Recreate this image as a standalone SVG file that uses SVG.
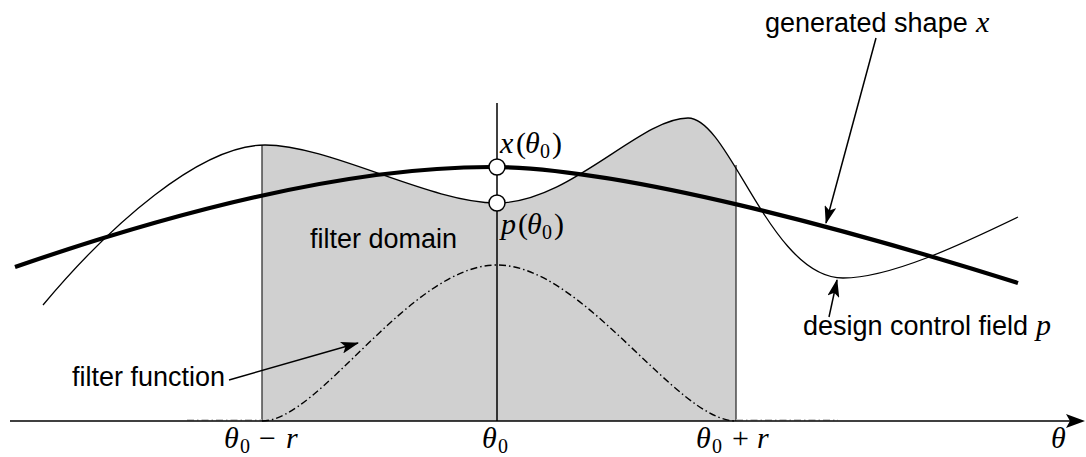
<svg xmlns="http://www.w3.org/2000/svg" width="1086" height="457" viewBox="0 0 1086 457">
<style>
.sans{font-family:"Liberation Sans",Arial,sans-serif;font-size:27px;fill:#000}
.math{font-family:"Liberation Serif","Times New Roman",serif;font-size:30px;fill:#000}
.it{font-style:italic}
.sub{font-size:20px;font-style:normal}
.thin{fill:none;stroke:#000;stroke-width:1.3}
.thick{fill:none;stroke:#000;stroke-width:4.2}
.edge{fill:none;stroke:#333;stroke-width:1.3}
.lead{fill:none;stroke:#000;stroke-width:1.5}
.dd{fill:none;stroke:#000;stroke-width:1.4;stroke-dasharray:7 3 1.5 3}
.ddf{fill:none;stroke:#bbb;stroke-width:1.4;stroke-dasharray:7 3 1.5 3}
.pt{fill:#fff;stroke:#000;stroke-width:1.5}
</style>
<defs>
<clipPath id="dom"><rect x="262" y="0" width="474" height="421"/></clipPath>
<marker id="ah" viewBox="0 0 18 12" refX="17" refY="6" markerWidth="18" markerHeight="12" markerUnits="userSpaceOnUse" orient="auto">
<path d="M18,6 L0,0 L4,6 L0,12 Z" fill="#000"/>
</marker>
</defs>
<g id="filter-domain">
<path d="M43,305 C110,225 200,145 265,145 C330,145 430,203 497,203 C570,203 640,118 688,118 C730,118 770,278 843,278 C890,278 960,245 1018,217 L1018,421 L43,421 Z" fill="#d0d0d0" clip-path="url(#dom)"/>
<path class="edge" d="M262,145 L262,421 M736,165 L736,421"/>
<text class="sans" x="310" y="248">filter domain</text>
</g>
<g id="filter-function">
<path class="ddf" d="M187,420 L262,420 M736,420 L838,420"/>
<path class="dd" d="M262,421 C320,421 410,265 497,265 C584,265 676,421 736,421"/>
</g>
<g id="design-control-field">
<path class="thin" d="M43,305 C110,225 200,145 265,145 C330,145 430,203 497,203 C570,203 640,118 688,118 C730,118 770,278 843,278 C890,278 960,245 1018,217"/>
</g>
<g id="generated-shape">
<path class="thick" d="M15,267 C180,210 350,167 490,167 C620,167 850,230 1018,283"/>
</g>
<g id="axes">
<path d="M10,421 L1070,421" fill="none" stroke="#000" stroke-width="1.6"/>
<path d="M1085,421 L1066,414 L1070,421 L1066,428 Z" fill="#000"/>
<path d="M497,103 L497,421" fill="none" stroke="#000" stroke-width="1.5"/>
<text class="math" y="448"><tspan class="it" x="224">θ</tspan><tspan class="sub" x="240" dy="5">0</tspan><tspan x="259" dy="-5">−</tspan><tspan class="it" x="286">r</tspan></text>
<text class="math" y="448"><tspan class="it" x="482">θ</tspan><tspan class="sub" x="498" dy="5">0</tspan></text>
<text class="math" y="448"><tspan class="it" x="696">θ</tspan><tspan class="sub" x="712" dy="5">0</tspan><tspan x="732" dy="-5">+</tspan><tspan class="it" x="757">r</tspan></text>
<text class="math it" x="1051" y="448">θ</text>
</g>
<g id="point-x">
<circle class="pt" cx="497" cy="167" r="8"/>
<text class="math" y="153"><tspan class="it" x="500">x</tspan><tspan x="516">(</tspan><tspan class="it" x="525">θ</tspan><tspan class="sub" x="540" dy="5">0</tspan><tspan x="552" dy="-5">)</tspan></text>
</g>
<g id="point-p">
<circle class="pt" cx="497" cy="203" r="8"/>
<text class="math" y="234"><tspan class="it" x="501">p</tspan><tspan x="518">(</tspan><tspan class="it" x="527">θ</tspan><tspan class="sub" x="542" dy="5">0</tspan><tspan x="554" dy="-5">)</tspan></text>
</g>
<g id="label-generated-shape">
<text class="sans" x="765" y="32">generated shape <tspan class="math it" x="976">x</tspan></text>
</g>
<g id="label-design-control-field">
<text class="sans" x="803" y="335">design control field <tspan class="math it" x="1036">p</tspan></text>
</g>
<g id="label-filter-function">
<text class="sans" x="72" y="386">filter function</text>
</g>
<g id="connectors">
<path class="lead" d="M876,38 L826,223" marker-end="url(#ah)"/>
<path class="lead" d="M829,317 L837,280" marker-end="url(#ah)"/>
<path class="lead" d="M229,380 L358,343" marker-end="url(#ah)"/>
</g>
</svg>
